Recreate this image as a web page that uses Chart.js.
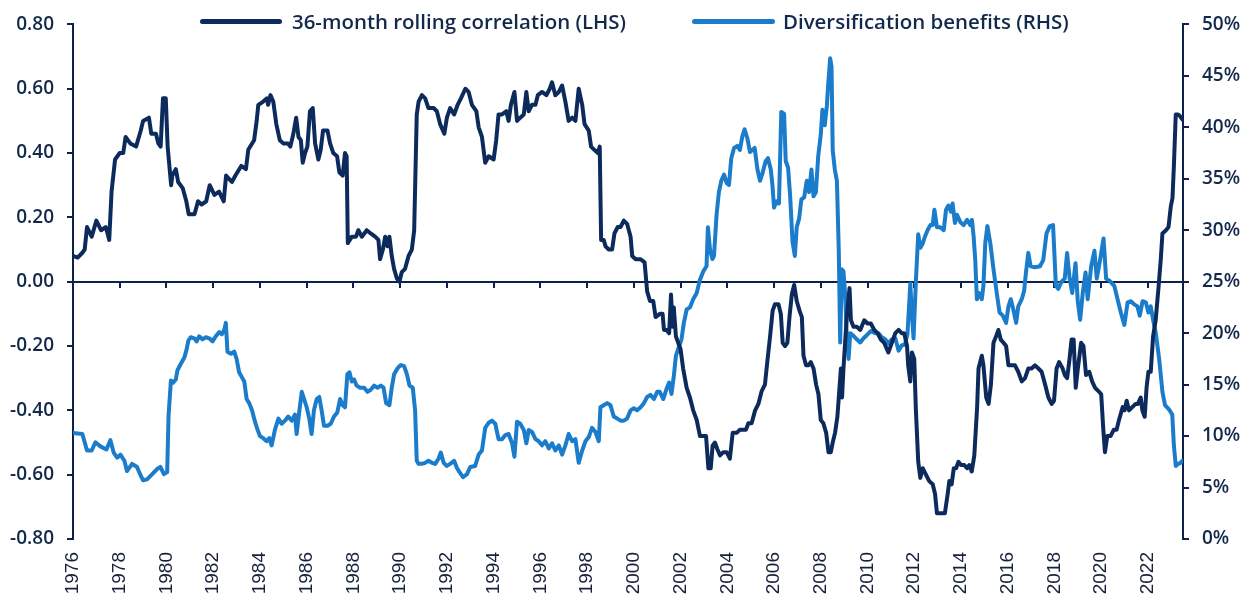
<!DOCTYPE html>
<html>
<head>
<meta charset="utf-8">
<script src="https://cdn.jsdelivr.net/npm/chart.js@4.4.1/dist/chart.umd.min.js"></script>
<style>
  html, body { margin: 0; padding: 0; background: #ffffff; }
  #wrap { position: relative; width: 1250px; height: 606px; }
  .lg-line { position: absolute; height: 5px; border-radius: 3px; }
  .lg-text { position: absolute; font-family: 'Open Sans', sans-serif; font-weight: 600; color: #13294b; white-space: nowrap; line-height: 1; }
</style>
</head>
<body>
<div id="wrap">
  <canvas id="c"></canvas>
  <div class="lg-line" style="left:200px; top:19px; width:82px; background:#0c2b5c;"></div>
  <div class="lg-text" id="lg1" style="left:292px;">36-month rolling correlation (LHS)</div>
  <div class="lg-line" style="left:692px; top:19px; width:83px; background:#1a7cca;"></div>
  <div class="lg-text" id="lg2" style="left:783px;">Diversification benefits (RHS)</div>
</div>
<script>
// ---- Data: 36-month rolling correlation (LHS) ----
const corrYears = [
  1976.00,1976.20,1976.40,1976.50,1976.60,1976.80,
  1977.00,1977.20,1977.40,1977.48,1977.55,1977.65,1977.80,
  1978.00,1978.15,1978.25,1978.45,1978.70,1978.90,
  1979.00,1979.25,1979.35,1979.55,1979.65,1979.75,1979.85,1979.97,
  1980.05,1980.20,1980.25,1980.40,1980.50,1980.70,1980.85,1980.95,
  1981.20,1981.35,1981.50,1981.70,1981.85,
  1982.05,1982.25,1982.45,1982.55,1982.80,1982.95,
  1983.20,1983.40,1983.50,1983.75,1983.86,1983.93,
  1984.14,1984.30,1984.35,1984.45,1984.57,1984.70,1984.85,
  1985.00,1985.20,1985.30,1985.43,1985.55,1985.65,1985.75,1985.83,1985.93,
  1986.03,1986.14,1986.26,1986.36,1986.50,1986.60,1986.70,1986.89,
  1987.00,1987.14,1987.30,1987.40,1987.54,1987.64,1987.71,1987.76,1987.93,
  1988.11,1988.21,1988.36,1988.57,1988.74,1988.93,
  1989.07,1989.14,1989.26,1989.36,1989.46,1989.54,1989.64,1989.74,1989.86,1989.97,
  1990.07,1990.21,1990.36,1990.50,1990.60,1990.71,1990.79,1990.93,
  1991.07,1991.21,1991.43,1991.57,1991.71,1991.89,
  1992.00,1992.14,1992.31,1992.46,1992.60,1992.79,1992.93,
  1993.07,1993.26,1993.36,1993.50,1993.64,1993.79,
  1994.00,1994.11,1994.21,1994.36,1994.54,1994.64,1994.74,1994.89,
  1995.00,1995.14,1995.29,1995.40,1995.50,1995.64,1995.79,1995.89,
  1996.07,1996.26,1996.40,1996.50,1996.64,1996.79,1996.93,
  1997.07,1997.21,1997.36,1997.50,1997.64,1997.79,1997.89,
  1998.07,1998.17,1998.31,1998.46,1998.54,1998.60,1998.71,1998.79,1998.93,
  1999.07,1999.17,1999.31,1999.43,1999.57,1999.71,1999.86,1999.93,
  2000.07,2000.29,2000.46,2000.57,2000.69,2000.83,2000.93,
  2001.11,2001.23,2001.29,2001.40,2001.51,2001.59,2001.66,2001.71,2001.80,2001.90,
  2002.00,2002.11,2002.26,2002.40,2002.54,2002.69,2002.83,2002.97,
  2003.09,2003.19,2003.29,2003.37,2003.47,2003.57,2003.69,2003.83,2003.97,
  2004.11,2004.23,2004.40,2004.54,2004.69,2004.80,2004.90,
  2005.04,2005.19,2005.33,2005.47,2005.61,2005.71,2005.83,2005.94,
  2006.04,2006.19,2006.29,2006.37,2006.47,2006.57,2006.66,2006.76,2006.86,2006.97,
  2007.09,2007.19,2007.26,2007.37,2007.47,2007.57,2007.69,2007.80,2007.90,
  2008.00,2008.11,2008.23,2008.33,2008.43,2008.51,2008.61,2008.71,2008.80,2008.86,2008.91,2008.97,
  2009.04,2009.11,2009.23,2009.29,2009.40,2009.54,2009.69,2009.86,
  2010.00,2010.14,2010.29,2010.43,2010.57,2010.71,2010.89,
  2011.04,2011.19,2011.33,2011.46,2011.57,2011.69,2011.74,2011.83,2011.90,
  2012.00,2012.07,2012.17,2012.26,2012.36,2012.50,2012.64,2012.79,2012.89,2012.97,
  2013.14,2013.31,2013.43,2013.50,2013.60,2013.69,2013.79,2013.89,
  2014.00,2014.14,2014.26,2014.36,2014.46,2014.57,2014.69,2014.75,2014.89,2014.96,
  2015.08,2015.18,2015.28,2015.39,2015.50,2015.60,2015.70,2015.82,2015.93,
  2016.03,2016.17,2016.31,2016.45,2016.60,2016.74,2016.88,
  2017.02,2017.17,2017.31,2017.45,2017.60,2017.74,2017.88,2017.98,
  2018.09,2018.20,2018.35,2018.44,2018.54,2018.63,2018.73,2018.82,2018.91,
  2019.00,2019.14,2019.24,2019.35,2019.49,2019.61,2019.74,2019.88,
  2020.00,2020.09,2020.16,2020.26,2020.40,2020.54,2020.66,2020.76,2020.92,
  2021.00,2021.09,2021.19,2021.33,2021.47,2021.57,2021.69,2021.76,2021.86,2021.94,
  2022.02,2022.12,2022.22,2022.33,2022.45,2022.55,2022.62,2022.77,2022.88,2022.98,
  2023.05,2023.11,2023.19,2023.29,2023.37,2023.47
];
const corrValues = [
  0.08,0.075,0.09,0.10,0.17,0.14,
  0.19,0.16,0.17,0.15,0.13,0.28,0.38,
  0.40,0.40,0.45,0.43,0.42,0.47,
  0.50,0.51,0.46,0.46,0.43,0.42,0.57,0.57,
  0.42,0.30,0.33,0.35,0.31,0.29,0.25,0.21,
  0.21,0.25,0.24,0.25,0.30,
  0.27,0.28,0.25,0.33,0.31,0.33,
  0.36,0.35,0.41,0.44,0.50,0.55,
  0.56,0.57,0.55,0.58,0.56,0.49,0.44,
  0.43,0.43,0.42,0.46,0.51,0.45,0.44,0.37,0.40,
  0.42,0.53,0.54,0.43,0.38,0.41,0.47,0.47,
  0.43,0.40,0.39,0.34,0.33,0.40,0.39,0.12,0.14,
  0.14,0.16,0.14,0.16,0.15,0.14,
  0.13,0.07,0.10,0.14,0.11,0.14,0.08,0.04,0.01,0.00,
  0.03,0.04,0.08,0.10,0.16,0.52,0.56,0.58,
  0.57,0.54,0.54,0.53,0.49,0.46,
  0.51,0.54,0.52,0.55,0.57,0.60,0.59,
  0.55,0.53,0.48,0.45,0.37,0.39,
  0.38,0.44,0.52,0.52,0.53,0.50,0.55,0.59,
  0.50,0.51,0.52,0.59,0.53,0.55,0.55,0.58,
  0.59,0.58,0.60,0.62,0.58,0.59,0.61,
  0.56,0.50,0.51,0.50,0.60,0.55,0.49,
  0.47,0.42,0.41,0.40,0.42,0.13,0.13,0.11,0.10,
  0.10,0.15,0.17,0.17,0.19,0.18,0.14,0.08,
  0.07,0.07,0.06,-0.03,-0.06,-0.06,-0.11,
  -0.10,-0.10,-0.15,-0.15,-0.16,-0.04,-0.14,-0.08,-0.17,-0.19,
  -0.21,-0.27,-0.33,-0.36,-0.40,-0.43,-0.48,-0.48,
  -0.48,-0.58,-0.58,-0.51,-0.50,-0.52,-0.54,-0.53,-0.53,
  -0.55,-0.47,-0.47,-0.46,-0.46,-0.46,-0.44,
  -0.44,-0.40,-0.38,-0.34,-0.32,-0.25,-0.17,-0.09,
  -0.07,-0.07,-0.10,-0.19,-0.20,-0.19,-0.11,-0.04,-0.01,-0.06,
  -0.09,-0.11,-0.23,-0.26,-0.26,-0.25,-0.27,-0.32,-0.35,
  -0.43,-0.44,-0.47,-0.53,-0.53,-0.50,-0.47,-0.42,-0.33,-0.27,-0.36,-0.27,
  -0.19,-0.11,-0.02,-0.12,-0.14,-0.14,-0.15,-0.12,
  -0.13,-0.13,-0.15,-0.16,-0.18,-0.19,-0.22,
  -0.19,-0.16,-0.15,-0.16,-0.16,-0.20,-0.26,-0.31,-0.22,
  -0.24,-0.40,-0.56,-0.61,-0.58,-0.60,-0.62,-0.63,-0.66,-0.72,
  -0.72,-0.72,-0.66,-0.62,-0.63,-0.58,-0.58,-0.56,
  -0.57,-0.57,-0.58,-0.57,-0.59,-0.54,-0.39,-0.27,-0.23,-0.26,
  -0.36,-0.38,-0.32,-0.19,-0.17,-0.15,-0.18,-0.19,-0.20,
  -0.26,-0.26,-0.26,-0.28,-0.31,-0.30,-0.27,
  -0.27,-0.26,-0.27,-0.28,-0.32,-0.36,-0.38,-0.37,
  -0.27,-0.25,-0.27,-0.29,-0.30,-0.25,-0.18,-0.18,-0.33,
  -0.27,-0.19,-0.20,-0.29,-0.28,-0.31,-0.33,-0.34,
  -0.35,-0.46,-0.53,-0.48,-0.48,-0.46,-0.46,-0.43,-0.39,
  -0.40,-0.37,-0.40,-0.39,-0.38,-0.38,-0.36,-0.40,-0.42,-0.33,
  -0.28,-0.28,-0.17,-0.12,-0.02,0.07,0.15,0.16,0.17,0.235,
  0.26,0.36,0.52,0.52,0.515,0.505
];

// ---- Data: Diversification benefits (RHS, %) ----
const divYears = [
  1976.00,1976.40,1976.60,1976.80,1976.96,
  1977.17,1977.43,1977.60,1977.74,1977.89,
  1978.03,1978.20,1978.31,1978.53,1978.74,1978.89,
  1979.00,1979.17,1979.39,1979.60,1979.74,1979.89,
  1980.03,1980.09,1980.19,1980.29,1980.40,1980.47,1980.61,1980.76,1980.86,1980.94,
  1981.04,1981.19,1981.29,1981.40,1981.54,1981.69,1981.83,1981.97,
  1982.11,1982.26,1982.37,1982.47,1982.54,1982.61,1982.76,1982.90,
  1983.00,1983.11,1983.23,1983.33,1983.43,1983.54,1983.66,1983.80,1983.90,
  1984.00,1984.14,1984.29,1984.40,1984.50,1984.64,1984.79,1984.93,
  1985.07,1985.21,1985.36,1985.50,1985.57,1985.69,1985.79,1985.89,
  1986.00,1986.11,1986.21,1986.31,1986.43,1986.54,1986.64,1986.74,1986.89,
  1987.03,1987.17,1987.31,1987.43,1987.54,1987.64,1987.74,1987.83,1987.93,
  1988.03,1988.14,1988.29,1988.46,1988.60,1988.74,1988.89,
  1989.03,1989.17,1989.29,1989.40,1989.54,1989.64,1989.74,1989.89,
  1990.03,1990.17,1990.29,1990.40,1990.54,1990.64,1990.71,1990.79,1990.93,
  1991.07,1991.21,1991.36,1991.50,1991.64,1991.74,1991.86,
  1992.00,1992.14,1992.31,1992.43,1992.54,1992.69,1992.86,
  1993.00,1993.21,1993.36,1993.50,1993.64,1993.79,1993.93,
  1994.07,1994.21,1994.36,1994.50,1994.64,1994.79,1994.89,
  1995.00,1995.14,1995.29,1995.40,1995.50,1995.64,1995.79,1995.93,
  1996.07,1996.21,1996.36,1996.50,1996.64,1996.79,1996.93,
  1997.07,1997.21,1997.36,1997.50,1997.64,1997.79,1997.93,
  1998.07,1998.21,1998.36,1998.50,1998.57,1998.71,1998.86,
  1999.00,1999.14,1999.29,1999.43,1999.57,1999.71,1999.86,
  2000.00,2000.14,2000.29,2000.43,2000.57,2000.71,2000.86,
  2001.00,2001.11,2001.26,2001.40,2001.51,2001.61,2001.71,2001.80,2001.90,
  2002.04,2002.14,2002.26,2002.40,2002.54,2002.69,2002.83,2002.97,
  2003.11,2003.17,2003.26,2003.36,2003.43,2003.54,2003.64,2003.74,2003.86,2003.97,
  2004.07,2004.17,2004.29,2004.43,2004.54,2004.64,2004.74,2004.86,2004.97,
  2005.07,2005.17,2005.29,2005.40,2005.50,2005.64,2005.74,2005.86,2005.93,
  2006.00,2006.11,2006.21,2006.31,2006.43,2006.50,2006.60,2006.69,2006.79,2006.89,2006.97,
  2007.07,2007.17,2007.29,2007.40,2007.50,2007.60,2007.69,2007.79,2007.89,
  2008.00,2008.07,2008.17,2008.26,2008.31,2008.40,2008.46,2008.51,2008.60,2008.69,2008.77,2008.83,2008.90,2008.97,
  2009.04,2009.11,2009.19,2009.26,2009.37,2009.54,2009.69,2009.83,2009.97,
  2010.14,2010.33,2010.47,2010.61,2010.76,2010.89,
  2011.04,2011.19,2011.33,2011.46,2011.60,2011.71,2011.83,2011.89,2011.97,
  2012.07,2012.17,2012.26,2012.36,2012.46,2012.57,2012.69,2012.79,2012.86,2012.97,
  2013.11,2013.26,2013.36,2013.46,2013.57,2013.64,2013.74,2013.83,2013.97,
  2014.11,2014.26,2014.40,2014.47,2014.54,2014.61,2014.68,2014.78,2014.89,2014.96,
  2015.04,2015.13,2015.25,2015.39,2015.53,2015.65,2015.79,2015.93,
  2016.03,2016.13,2016.24,2016.36,2016.45,2016.60,2016.70,2016.78,2016.88,2016.98,
  2017.17,2017.38,2017.52,2017.66,2017.80,2017.94,
  2018.06,2018.16,2018.30,2018.44,2018.54,2018.65,2018.76,2018.90,
  2019.00,2019.10,2019.21,2019.33,2019.42,2019.57,2019.71,2019.81,2019.95,
  2020.10,2020.21,2020.35,2020.56,2020.70,2020.84,2020.99,
  2021.13,2021.27,2021.41,2021.55,2021.65,2021.77,2021.91,
  2022.02,2022.12,2022.22,2022.33,2022.48,2022.62,2022.73,2022.90,
  2023.04,2023.11,2023.19,2023.29,2023.40,2023.47
];
const divValues = [
  10.3,10.2,8.6,8.6,9.4,
  9.0,8.7,9.6,8.4,7.9,
  8.2,7.6,6.6,7.3,7.0,6.2,
  5.7,5.8,6.3,6.8,7.0,6.3,
  6.5,12.0,15.4,15.2,15.5,16.4,17.0,17.6,18.4,19.3,
  19.6,19.5,19.2,19.7,19.4,19.6,19.5,19.2,
  19.7,20.1,19.9,20.3,21.0,18.2,18.0,18.2,
  17.5,16.2,15.7,15.3,13.6,13.2,12.5,11.3,10.6,
  10.0,9.8,9.5,9.8,9.1,10.6,11.7,11.2,
  11.5,11.9,11.5,12.1,10.2,12.5,14.3,13.6,
  12.8,11.7,10.2,12.5,13.6,13.8,12.5,11.0,11.0,
  11.2,11.9,12.3,13.6,13.0,12.8,16.0,16.2,15.3,
  15.5,14.9,14.7,14.7,14.3,14.5,14.9,
  14.7,14.9,14.7,13.2,13.0,14.7,16.0,16.6,
  16.9,16.8,16.0,14.9,14.7,12.5,7.6,7.3,7.3,
  7.4,7.6,7.4,7.3,7.8,8.4,7.4,
  7.1,7.3,7.6,6.9,6.5,6.0,6.3,
  7.0,7.1,8.2,8.6,10.8,11.3,11.5,
  11.2,9.7,9.7,10.1,10.2,9.3,8.0,
  11.4,11.2,10.6,9.3,10.6,10.4,9.7,9.5,
  9.1,9.5,8.8,9.3,8.6,9.1,8.2,
  9.1,10.2,9.5,9.7,7.4,8.6,9.5,
  9.9,10.8,10.4,9.5,12.8,13.0,13.2,
  13.0,11.9,11.7,11.5,11.5,11.7,12.5,
  12.7,12.5,12.8,13.2,13.8,14.0,13.6,
  14.3,14.3,13.6,14.6,15.2,14.1,15.8,17.8,18.5,
  19.4,21.0,22.3,22.5,23.3,23.9,25.2,26.0,
  26.5,30.3,28.1,27.2,27.5,31.5,33.7,34.8,35.4,34.6,
  34.4,37.0,38.0,38.2,37.8,39.1,39.8,38.9,37.6,
  37.8,38.0,35.9,34.8,35.5,36.7,37.0,35.9,34.4,
  32.2,32.8,32.6,41.5,41.3,36.7,36.1,33.3,28.9,27.5,30.3,
  31.1,33.0,33.2,34.8,33.7,35.9,33.3,33.7,37.2,
  39.3,41.7,40.2,42.1,43.9,46.7,45.9,37.8,35.9,34.8,28.0,19.1,26.2,26.0,
  23.9,19.8,17.5,20.0,19.8,19.4,19.1,19.5,19.8,
  20.2,20.0,20.0,19.6,19.4,19.0,
  19.4,19.5,18.3,18.8,18.9,19.9,24.8,22.2,19.5,
  25.1,29.6,28.3,28.7,29.4,30.0,30.5,30.5,32.0,30.3,
  30.3,30.0,32.0,32.4,31.8,32.6,30.7,31.5,30.8,
  30.5,31.0,30.5,31.0,29.4,27.1,23.3,23.9,23.3,24.6,
  28.8,30.4,28.8,26.2,23.9,22.0,21.7,21.0,
  22.6,23.3,22.3,21.0,22.6,23.3,24.1,25.9,27.8,26.5,
  26.4,26.5,27.1,29.7,30.4,30.5,
  24.6,24.3,25.0,25.3,27.8,25.3,23.9,26.8,
  23.0,21.3,23.9,25.9,23.3,26.5,28.0,25.3,27.1,
  29.2,25.3,25.1,24.6,23.3,22.0,20.8,
  23.0,23.1,22.8,22.6,21.7,23.1,23.0,
  22.0,22.6,21.3,20.1,17.5,14.3,13.0,12.6,
  12.1,9.1,7.1,7.3,7.4,7.6
];

// ---- Axis settings ----
const xMin = 1976, xMax = 2023.5, xStep = 2;
const leftMin = -0.8, leftMax = 0.8, leftStep = 0.2;
const rightMin = 0, rightMax = 50, rightStep = 5;

const NAVY = '#0c2b5c';
const LIGHT = '#1a7cca';
const AXIS = '#0d2247';
const TEXT = '#13294b';

// Legend font fitting (keeps text width close to the reference)
(function fitLegend() {
  const l1 = document.getElementById('lg1'), l2 = document.getElementById('lg2');
  l1.style.fontSize = l2.style.fontSize = '19px';
  const w = l1.getBoundingClientRect().width + l2.getBoundingClientRect().width;
  const fs = 19 * (335 + 285) / w;
  [l1, l2].forEach(el => { el.style.fontSize = fs + 'px'; el.style.top = (21 - fs * 0.5) + 'px'; });
})();

const zeroAxis = {
  id: 'zeroAxis',
  beforeDatasetsDraw(chart) {
    const { ctx, chartArea: a, scales } = chart;
    const x = scales.x, y = scales.y;
    const y0 = Math.round(y.getPixelForValue(0));
    ctx.save();
    ctx.strokeStyle = AXIS;
    ctx.lineWidth = 2;
    ctx.beginPath();
    ctx.moveTo(a.left, y0);
    ctx.lineTo(a.right, y0);
    x.ticks.forEach(t => {
      if (t.value <= x.min) return;
      const px = Math.round(x.getPixelForValue(t.value));
      ctx.moveTo(px, y0);
      ctx.lineTo(px, y0 + 6);
    });
    ctx.stroke();
    ctx.restore();
  }
};

new Chart(document.getElementById('c'), {
  type: 'line',
  data: {
    datasets: [
      {
        label: '36-month rolling correlation (LHS)',
        data: corrYears.map((x, i) => ({ x: x, y: corrValues[i] })),
        borderColor: NAVY, borderWidth: 4, pointRadius: 0, tension: 0,
        yAxisID: 'y', borderJoinStyle: 'round', borderCapStyle: 'round'
      },
      {
        label: 'Diversification benefits (RHS)',
        data: divYears.map((x, i) => ({ x: x, y: divValues[i] })),
        borderColor: LIGHT, borderWidth: 4, pointRadius: 0, tension: 0,
        yAxisID: 'y1', borderJoinStyle: 'round', borderCapStyle: 'round'
      }
    ]
  },
  options: {
    animation: false,
    responsive: true,
    maintainAspectRatio: false,
    layout: { padding: { top: 19, left: 0, right: 0, bottom: 0 } },
    plugins: { legend: { display: false }, tooltip: { enabled: false } },
    scales: {
      x: {
        type: 'linear', min: xMin, max: xMax,
        afterFit(s) { s.height = 67; },
        grid: { display: false, drawTicks: false },
        border: { display: false },
        ticks: {
          stepSize: xStep, includeBounds: false, autoSkip: false,
          maxRotation: 90, minRotation: 90, padding: 13,
          color: '#17213a',
          font: { family: "'Liberation Sans', Arial, sans-serif", size: 19 },
          callback: v => String(v)
        }
      },
      y: {
        position: 'left', min: leftMin, max: leftMax,
        afterFit(s) { s.width = 73; },
        grid: { drawOnChartArea: false, drawTicks: true, tickLength: 6, color: AXIS, lineWidth: 2 },
        border: { display: true, color: AXIS, width: 2 },
        ticks: {
          stepSize: leftStep, padding: 13, color: TEXT,
          font: { family: "'Open Sans', sans-serif", size: 19, weight: '600' },
          callback: v => (Math.abs(v) < 1e-9 ? '0.00' : Number(v).toFixed(2))
        }
      },
      y1: {
        position: 'right', min: rightMin, max: rightMax,
        afterFit(s) { s.width = 67; },
        grid: { drawOnChartArea: false, drawTicks: true, tickLength: 6, color: AXIS, lineWidth: 2 },
        border: { display: true, color: AXIS, width: 2 },
        ticks: {
          stepSize: rightStep, padding: 13, color: TEXT,
          font: { family: "'Open Sans', sans-serif", size: 19, weight: '600' },
          callback: v => Math.round(v) + '%'
        }
      }
    }
  },
  plugins: [zeroAxis]
});
</script>
</body>
</html>
